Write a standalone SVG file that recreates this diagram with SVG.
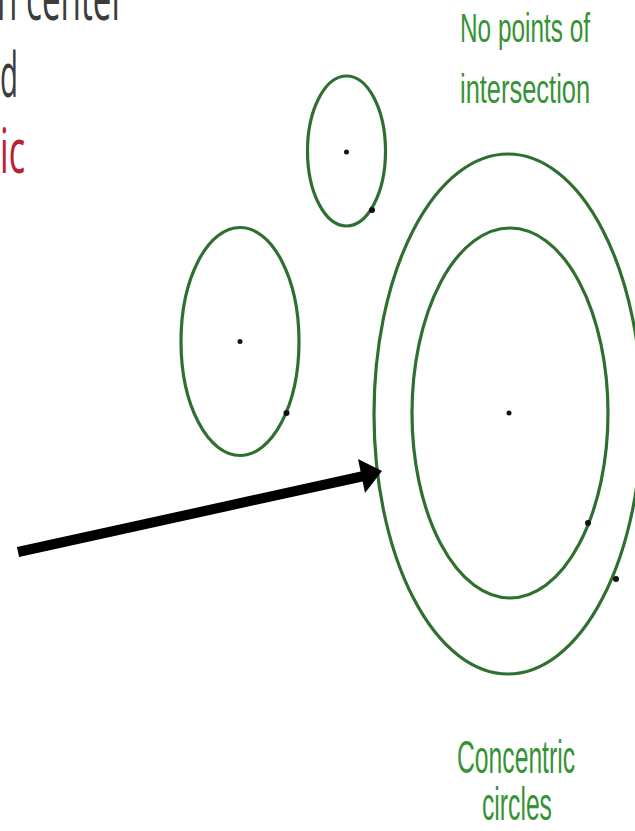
<svg xmlns="http://www.w3.org/2000/svg" width="635" height="831" viewBox="0 0 635 831">
<style>
.circ{fill:none;stroke:#2f6f2f;stroke-width:3.2}
.dot{fill:#111}
.lbl{font-family:"Liberation Sans",Arial,sans-serif;fill:#369336}
.gray{font-family:"Open Sans","Liberation Sans",sans-serif;fill:#3c3c3c}
.red{font-family:"Open Sans","Liberation Sans",sans-serif;fill:#bb2035}
</style>
<rect width="635" height="831" fill="#fff"/>
<g id="caption">
<text class="gray" x="-3" y="20" font-size="62" textLength="128" lengthAdjust="spacingAndGlyphs">n center</text>
<text class="gray" x="0" y="97" font-size="62" textLength="18" lengthAdjust="spacingAndGlyphs">d</text>
<text class="red" x="0" y="173" font-size="62" textLength="25" lengthAdjust="spacingAndGlyphs">ic</text>
</g>
<g id="circle-small">
<ellipse class="circ" cx="346.5" cy="151" rx="39" ry="75"/>
<circle class="dot" cx="346.5" cy="152" r="2.5"/>
<circle class="dot" cx="372" cy="210" r="3"/>
</g>
<g id="circle-left">
<ellipse class="circ" cx="240" cy="341.5" rx="59" ry="114"/>
<circle class="dot" cx="240" cy="341.5" r="2.5"/>
<circle class="dot" cx="286.5" cy="413" r="3"/>
</g>
<g id="concentric-outer">
<ellipse class="circ" cx="508" cy="414" rx="134" ry="260"/>
<circle class="dot" cx="616" cy="579" r="3"/>
</g>
<g id="concentric-inner">
<ellipse class="circ" cx="510" cy="413" rx="98" ry="185"/>
<circle class="dot" cx="509" cy="413" r="2.5"/>
<circle class="dot" cx="588" cy="523" r="3"/>
</g>
<g id="label-top">
<text class="lbl" font-size="40" transform="translate(460,42) scale(0.609,1)">No points of</text>
<text class="lbl" font-size="40" transform="translate(460,103) scale(0.636,1)">intersection</text>
</g>
<g id="label-bottom">
<text class="lbl" font-size="46" transform="translate(457,773) scale(0.537,1)">Concentric</text>
<text class="lbl" font-size="46" transform="translate(482,820) scale(0.537,1)">circles</text>
</g>
<g id="connectors">
<line x1="18" y1="552" x2="364" y2="476" stroke="#000" stroke-width="10"/>
<polygon points="382,471 358,459 365,493" fill="#000"/>
</g>
</svg>
